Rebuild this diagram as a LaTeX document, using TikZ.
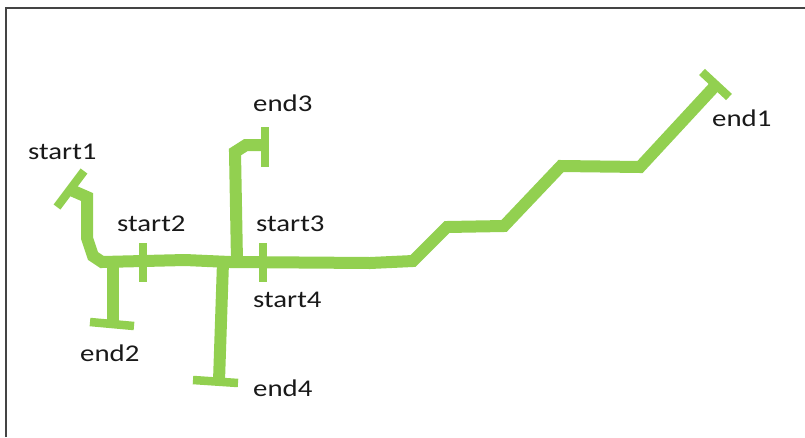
\documentclass[tikz,border=0pt]{standalone}
\usepackage{graphicx}
\usepackage{fontspec}
\setmainfont{Carlito}
\definecolor{pipegreen}{HTML}{92D050}
\definecolor{framegray}{HTML}{444444}
\newcommand\widetext[1]{\scalebox{1.2}[1]{#1}}
\begin{document}
\begin{tikzpicture}[x=1pt,y=-1pt,
  pipe/.style={draw=pipegreen,line width=12pt,line join=miter},
  capbar/.style={draw=pipegreen,line width=8.5pt},
  lbl/.style={anchor=base west,inner sep=0pt,text=black!90,font=\fontsize{24}{28}\selectfont}]
  \useasboundingbox (0,0) rectangle (805,437);
  % frame (top and left edges)
  \draw[framegray,line width=1.6pt] (6,437) -- (6,8) -- (805,8);

  % named points of the network
  \coordinate (t1) at (71,190);
  \coordinate (t1a) at (57,207);
  \coordinate (t1b) at (84,171);
  \coordinate (e1) at (715,86);
  \coordinate (e1a) at (702,72);
  \coordinate (e1b) at (729,97);
  \coordinate (j2) at (113,262);
  \coordinate (e2) at (113,324);
  \coordinate (e2a) at (90,322);
  \coordinate (e2b) at (134,326);
  \coordinate (j4) at (223,262);
  \coordinate (e4) at (219,381);
  \coordinate (e4a) at (193,380);
  \coordinate (e4b) at (238,383);
  \coordinate (j3) at (237,262);
  \coordinate (e3) at (265,145);
  \coordinate (e3a) at (265,127);
  \coordinate (e3b) at (265,167);
  \coordinate (s2a) at (143,243);
  \coordinate (s2b) at (143,282);
  \coordinate (s3a) at (263,243);
  \coordinate (s3b) at (263,282);

  % main line start1 -> end1
  \draw[pipe] (t1) -- (87,197) -- (87,238) -- (93,256) -- (102,262)
    -- (185,260) -- (230,262) -- (370,263) -- (413,261)
    -- (447,227) -- (504,226) -- (561,166) -- (640,167) -- (e1);
  % branches
  \draw[pipe] (j2) -- (e2);
  \draw[pipe] (j4) -- (e4);
  \draw[pipe] (j3) -- (235,152) -- (246,145) -- (e3);

  % end bars and start ticks
  \draw[capbar] (t1a) -- (t1b);
  \draw[capbar] (e1a) -- (e1b);
  \draw[capbar] (e2a) -- (e2b);
  \draw[capbar] (e4a) -- (e4b);
  \draw[capbar] (e3a) -- (e3b);
  \draw[capbar] (s2a) -- (s2b);
  \draw[capbar] (s3a) -- (s3b);

  % labels
  \node[lbl] (ls1) at (28,159) {\widetext{start1}};
  \node[lbl] (ls2) at (117,231.5) {\widetext{start2}};
  \node[lbl] (ls3) at (256,231.5) {\widetext{start3}};
  \node[lbl] (ls4) at (253,307) {\widetext{start4}};
  \node[lbl] (le1) at (712,126.5) {\widetext{end1}};
  \node[lbl] (le2) at (80,361) {\widetext{end2}};
  \node[lbl] (le3) at (253,111) {\widetext{end3}};
  \node[lbl] (le4) at (253,396.5) {\widetext{end4}};
\end{tikzpicture}
\end{document}
